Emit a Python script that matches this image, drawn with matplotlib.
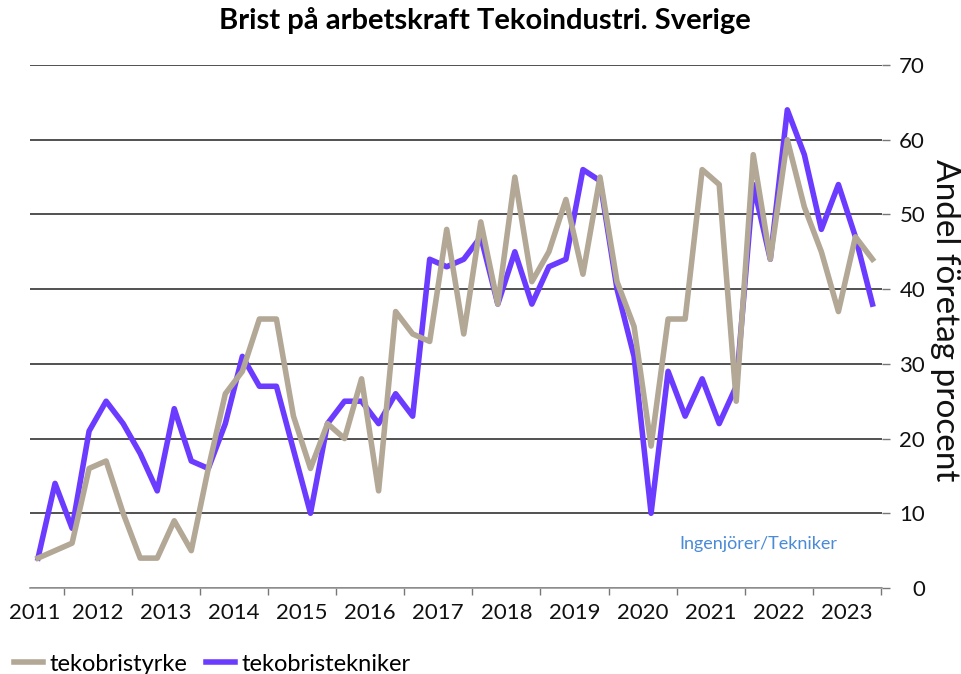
import numpy as np
import matplotlib.pyplot as plt
from matplotlib.ticker import FixedLocator, NullFormatter

plt.rcParams['font.family'] = ['Lato', 'DejaVu Sans']

# quarterly values, 2011 Q3 .. 2023 Q4
quarters = [f"{y} Q{q}" for y in range(2011, 2024) for q in range(1, 5)][2:]
tekobristyrke = [4, 5, 6, 16, 17, 10, 4, 4, 9, 5,
                 16, 26, 29, 36, 36, 23, 16, 22, 20, 28,
                 13, 37, 34, 33, 48, 34, 49, 38, 55, 41,
                 45, 52, 42, 55, 41, 35, 19, 36, 36, 56,
                 54, 25, 58, 44, 60, 51, 45, 37, 47, 44]
tekobristekniker = [4, 14, 8, 21, 25, 22, 18, 13, 24, 17,
                    16, 22, 31, 27, 27, 18.5, 10, 22, 25, 25,
                    22, 26, 23, 44, 43, 44, 47, 38, 45, 38,
                    43, 44, 56, 54.5, 40, 31, 10, 29, 23, 28,
                    22, 27, 54, 44, 64, 58, 48, 54, 47, 38]
years = list(range(2011, 2024))
y_ticks = [0, 10, 20, 30, 40, 50, 60, 70]

beige = '#b3a796'
purple = '#6b3cff'

fig = plt.figure(figsize=(9.61, 6.74), dpi=100)
ax = fig.add_axes([30 / 961, 86 / 674, 852 / 961, 523 / 674])

x = np.arange(len(quarters))
ax.plot(x, tekobristyrke, color=beige, lw=4, label='tekobristyrke', zorder=3)
ax.plot(x, tekobristekniker, color=purple, lw=4, label='tekobristekniker', zorder=2)

ax.set_xlim(-0.47, len(quarters) - 0.44)
ax.set_ylim(0, 70)

# year boundaries as ticks, year names centred between them
boundaries = [1.5 + 4 * k for k in range(len(years))]
centres = [-0.2] + [3.5 + 4 * k for k in range(len(years) - 1)]
ax.xaxis.set_major_locator(FixedLocator(boundaries))
ax.xaxis.set_major_formatter(NullFormatter())
ax.xaxis.set_minor_locator(FixedLocator(centres))
ax.set_xticklabels([str(y) for y in years], minor=True)
ax.tick_params(axis='x', which='major', length=5, width=1, color='#777777', direction='out')
ax.tick_params(axis='x', which='minor', length=0, pad=11, labelsize=16, labelcolor='#111111')

ax.yaxis.tick_right()
ax.set_yticks(y_ticks)
ax.tick_params(axis='y', length=6, width=1, color='#777777', labelsize=16,
               labelcolor='#111111', pad=25)
for lbl in ax.get_yticklabels():
    lbl.set_horizontalalignment('right')

fig.text(945 / 961, 1 - 320 / 674, 'Andel företag procent', rotation=270,
         fontsize=24, ha='center', va='center', color='#111111')

ax.grid(axis='y', color='#333333', lw=1.2)
ax.set_axisbelow(True)
for s in ['top', 'left', 'right']:
    ax.spines[s].set_visible(False)
ax.spines['bottom'].set_color('#999999')
ax.spines['bottom'].set_linewidth(1.2)

ax.text(0.855, 0.085, 'Ingenjörer/Tekniker', transform=ax.transAxes,
        color='#4a8ad6', fontsize=13, ha='center', va='center')

fig.text(485 / 961, 1 - 20 / 674, 'Brist på arbetskraft Tekoindustri. Sverige',
         ha='center', va='center', fontsize=21, fontweight='bold')

fig.legend(loc='lower left', bbox_to_anchor=(0.0, -0.022), ncol=2, frameon=False,
           fontsize=17, handlelength=1.2, handletextpad=0.3, columnspacing=0.8,
           borderaxespad=0.2)

plt.savefig('out.png', dpi=100)
